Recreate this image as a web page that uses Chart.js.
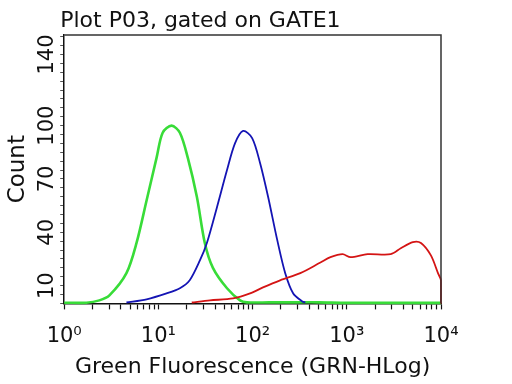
<!DOCTYPE html>
<html><head><meta charset="utf-8">
<script src="https://cdn.jsdelivr.net/npm/chart.js@4.4.0/dist/chart.umd.min.js"></script>
<style>html,body{margin:0;padding:0;background:#fff;} #wrap{width:512px;height:384px;position:relative;}</style>
</head><body><div id="wrap"><canvas id="c" width="512" height="384"></canvas></div>
<script>
const titleText = 'Plot P03, gated on GATE1';
const xTitle = 'Green Fluorescence (GRN-HLog)';
const yTitle = 'Count';
const xTickValues = [1, 10, 100, 1000, 10000];
const xTickLabels = ['10⁰', '10¹', '10²', '10³', '10⁴'];
const yTickLabels = [10, 40, 70, 100, 140];

const greenX = [1, 1.72, 2.36, 3.02, 4.58, 5.86, 7.5, 9.57, 11.1, 13.8, 16.9, 20.5, 25.6, 31.1, 37.9, 53.5, 73.6, 87.3, 150, 300, 500, 1000, 3000, 10000];
const greenY = [0.4, 0.4, 1.7, 4.5, 17, 34, 58, 82, 96, 100, 96, 82, 60, 34, 20, 8.5, 1.7, 0.6, 0.6, 0.6, 0.6, 0.3, 0.3, 0.3];

const blueX = [4.58, 7.5, 12.2, 16.9, 21.5, 27.5, 32.7, 41.8, 53.5, 65.0, 79.3, 98.9, 120, 146, 182, 222, 270, 337, 363];
const blueY = [0.5, 2.3, 5.6, 8.5, 13, 24, 34, 54, 75, 90, 97, 93, 79, 60, 36, 17, 5.6, 1.1, 0.5];

const redX = [22.6, 35.2, 61.9, 94.0, 129, 196, 321, 525, 671, 902, 1096, 1663, 2931, 3741, 5023, 6124, 7816, 9290, 9990, 10000];
const redY = [0.5, 1.7, 2.8, 5.6, 9, 13, 17, 23, 26, 27.7, 26, 27.7, 27.7, 31, 34.5, 34, 27, 17, 13, 0];

function pts(xs, ys) { return xs.map((x, i) => ({x: x, y: ys[i]})); }

const FONT = "'DejaVu Sans', sans-serif";

const framePlugin = {
  id: 'frame',
  afterDraw(chart) {
    const ctx = chart.ctx, a = chart.chartArea;
    ctx.save();
    ctx.strokeStyle = '#333';
    ctx.lineWidth = 1.5;
    ctx.beginPath();
    ctx.moveTo(a.left, a.top); ctx.lineTo(a.right, a.top); ctx.lineTo(a.right, a.bottom);
    ctx.stroke();
    ctx.font = '22px ' + FONT;
    ctx.fillStyle = '#111';
    ctx.textBaseline = 'alphabetic';
    ctx.textAlign = 'left';
    ctx.fillText(titleText, a.left - 4, 27);
    ctx.restore();
  }
};

new Chart(document.getElementById('c'), {
  type: 'line',
  data: {
    datasets: [
      {label: 'red', data: pts(redX, redY), borderColor: '#d41414', borderWidth: 1.8, pointRadius: 0, tension: 0.3, clip: false},
      {label: 'blue', data: pts(blueX, blueY), borderColor: '#1414b4', borderWidth: 1.8, pointRadius: 0, tension: 0.3, clip: false},
      {label: 'green', data: pts(greenX, greenY), borderColor: '#38dc38', borderWidth: 2.6, pointRadius: 0, tension: 0.3, clip: false}
    ]
  },
  options: {
    responsive: false,
    animation: false,
    devicePixelRatio: 1,
    layout: {padding: {left: 4.4, right: 71, top: 35, bottom: 4}},
    plugins: {legend: {display: false}, title: {display: false}, tooltip: {enabled: false}},
    scales: {
      x: {
        type: 'logarithmic', min: 1, max: 10000,
        afterBuildTicks(scale) {
          const t = [];
          for (let d = 0; d < 4; d++) for (let k = 1; k < 10; k++) t.push({value: k * Math.pow(10, d)});
          t.push({value: 10000});
          scale.ticks = t;
        },
        ticks: {
          autoSkip: false, maxRotation: 0, minRotation: 0, padding: 15,
          color: '#111', font: {family: FONT, size: 21},
          callback(v) { const i = xTickValues.indexOf(v); return i >= 0 ? xTickLabels[i] : ''; }
        },
        grid: {drawOnChartArea: false, tickLength: 6, tickColor: '#111', tickWidth: 1.2},
        border: {color: '#111', width: 1.5},
        title: {display: true, text: xTitle, color: '#111', font: {family: FONT, size: 22}, padding: {top: -11, bottom: 0}}
      },
      y: {
        type: 'linear', min: 0, max: 151,
        afterBuildTicks(scale) {
          const t = [];
          for (let v = 0; v <= 150; v += 5) t.push({value: v});
          scale.ticks = t;
        },
        ticks: {
          autoSkip: false, minRotation: 90, maxRotation: 90, crossAlign: 'center', padding: -7,
          color: '#111', font: {family: FONT, size: 21},
          callback(v) { return yTickLabels.indexOf(v) >= 0 ? String(v) : ''; }
        },
        grid: {drawOnChartArea: false, tickLength: 4, tickColor: '#555', tickWidth: 1},
        border: {color: '#111', width: 1.5},
        title: {display: true, text: yTitle, color: '#111', font: {family: FONT, size: 23}, padding: {top: 0, bottom: 17}}
      }
    }
  },
  plugins: [framePlugin]
});
</script>
</body></html>
